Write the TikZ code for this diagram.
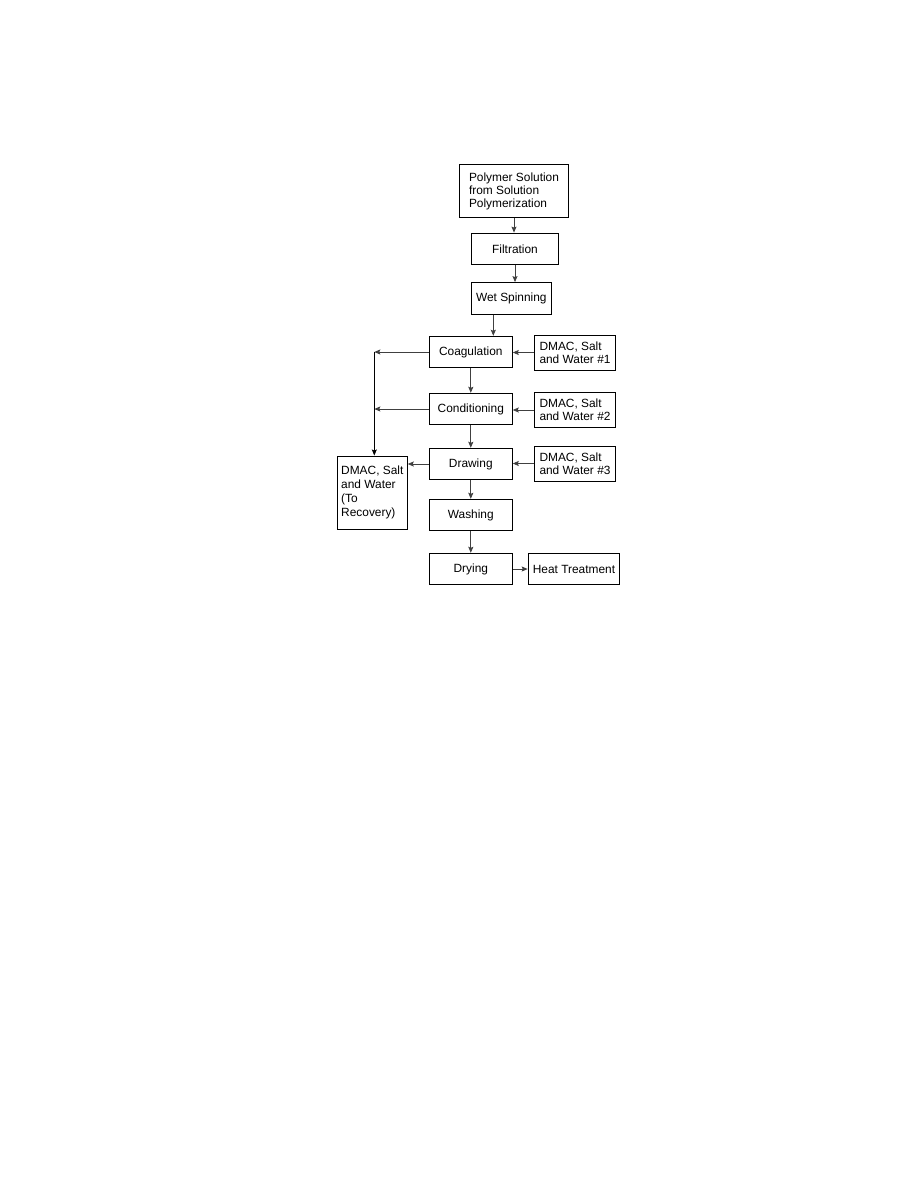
\documentclass[tikz,border=0pt]{standalone}
\usepackage{fontspec}
\setmainfont{Liberation Sans}
\usetikzlibrary{arrows.meta, positioning}

\begin{document}
\begin{tikzpicture}[
    x=1pt, y=1pt,
    every node/.style={font=\fontsize{11.9}{13.3}\selectfont},
    proc/.style={draw, line width=0.9pt, minimum width=#1, minimum height=31.5pt, inner sep=0pt},
    feed/.style={draw, line width=0.9pt, align=left, inner sep=0pt, minimum width=81pt, minimum height=35pt},
    flow/.style={draw=black!75, line width=0.8pt, -{Stealth[length=6pt, width=5pt, inset=1pt]}},
]
\useasboundingbox (0,0) rectangle (918,-1188);

\node[draw, line width=0.9pt, align=left, inner sep=0pt, minimum width=109.4pt, minimum height=53.4pt,
      font=\fontsize{11.9}{13}\selectfont] (poly) at (514,-191) {Polymer Solution\\from Solution\\Polymerization};
\node[proc=86.6pt] (filt) at (515,-248.8) {Filtration};
\node[proc=79.3pt] (wet) at (511.3,-298.3) {Wet Spinning};
\node[proc=83pt] (coag) at (470.8,-352) {Coagulation};
\node[proc=83pt] (cond) at (470.8,-409) {Conditioning};
\node[proc=83pt] (drw) at (470.8,-464) {Drawing};
\node[proc=83pt] (wash) at (470.8,-515) {Washing};
\node[proc=83pt] (dry) at (470.8,-569) {Drying};
\node[proc=91.7pt] (heat) at (574,-569) {Heat Treatment};

\node[feed] (dmac1) at (575,-352.5) {DMAC, Salt\\and Water \#1};
\node[feed] (dmac2) at (575,-410) {DMAC, Salt\\and Water \#2};
\node[feed] (dmac3) at (575,-463.5) {DMAC, Salt\\and Water \#3};
\node[draw, line width=0.9pt, align=left, inner sep=0pt, minimum width=70pt, minimum height=73.3pt,
      font=\fontsize{11.9}{14}\selectfont] (rec) at (372.3,-492.6) {DMAC, Salt\\and Water\\(To\\Recovery)};

\draw[flow] (poly.south) -- (poly.south |- filt.north);
\draw[flow] (filt.south) -- (filt.south |- wet.north);
\draw[flow] ([xshift=-18pt]wet.south) -- ([xshift=-18pt]wet.south |- coag.north);
\draw[flow] (coag.south) -- (cond.north);
\draw[flow] (cond.south) -- (drw.north);
\draw[flow] (drw.south) -- (wash.north);
\draw[flow] (wash.south) -- (dry.north);
\draw[flow] (dry.east) -- (heat.west);

\draw[flow] (dmac1.west) -- (dmac1.west -| coag.east);
\draw[flow] (dmac2.west) -- (dmac2.west -| cond.east);
\draw[flow] (dmac3.west) -- (dmac3.west -| drw.east);

\coordinate (join) at ([xshift=2pt]rec.north |- coag.west);
\draw[flow] (coag.west) -- (join);
\draw[flow] (cond.west) -- (join |- cond.west);
\draw[flow, draw=black] (join) -- (join |- rec.north);
\draw[flow] (drw.west) -- (drw.west -| rec.east);
\end{tikzpicture}
\end{document}
